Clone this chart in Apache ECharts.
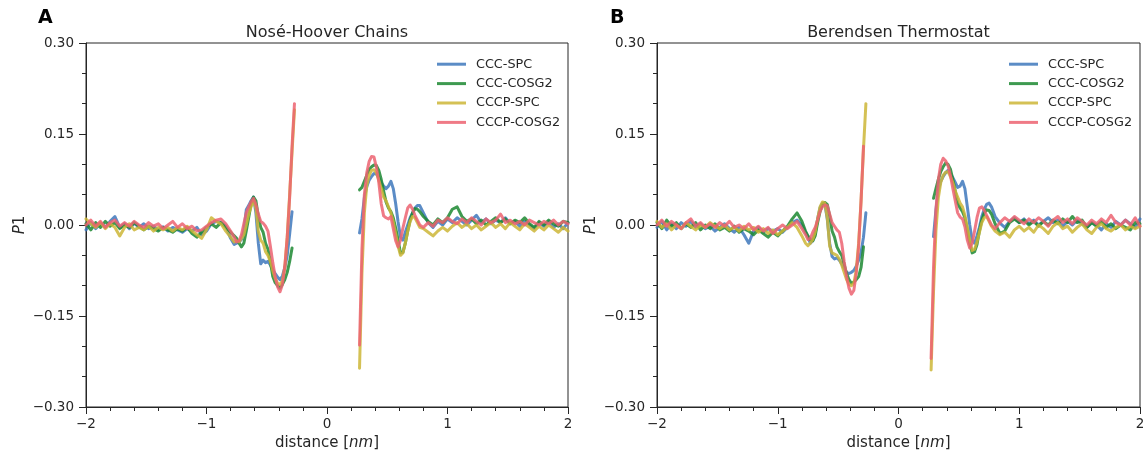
<!DOCTYPE html>
<html><head><meta charset="utf-8">
<script src="https://cdn.jsdelivr.net/npm/echarts@6/dist/echarts.min.js"></script>
<style>html,body{margin:0;padding:0;background:#fff}#c{width:1146px;height:452px}</style>
</head><body><div id="c"></div>
<script>
// ---- sample positions (nm) ----
const xNeg = [-2.00,-1.96,-1.92,-1.88,-1.84,-1.80,-1.76,-1.72,-1.68,-1.64,
  -1.60,-1.56,-1.52,-1.48,-1.44,-1.40,-1.36,-1.32,-1.28,-1.24,
  -1.20,-1.16,-1.12,-1.08,-1.04,-1.00,-0.96,-0.92,-0.88,-0.84,
  -0.80,
  -0.77,-0.75,-0.73,-0.71,-0.69,-0.67,-0.65,-0.63,-0.61,-0.59,
  -0.57,-0.55,-0.53,-0.51,-0.49,-0.47,-0.45,-0.43,-0.41,-0.39,
  -0.37,-0.35,-0.33,-0.31,-0.29,-0.27];
const xPos = [0.27,0.29,0.31,0.33,0.35,0.37,0.39,0.41,0.43,0.45,
  0.47,0.49,0.51,0.53,0.55,0.57,0.59,0.61,0.63,0.65,
  0.67,0.69,0.71,0.73,0.75,0.77,
  0.80,0.84,0.88,0.92,0.96,1.00,1.04,1.08,1.12,1.16,
  1.20,1.24,1.28,1.32,1.36,1.40,1.44,1.48,1.52,1.56,
  1.60,1.64,1.68,1.72,1.76,1.80,1.84,1.88,1.92,1.96,
  2.00];

// ---- Panel A: Nose-Hoover Chains ----
const nhCccSpcNeg = [-0.008,0.004,-0.006,0.002,-0.004,0.006,0.014,-0.004,0.002,-0.006,
  0.003,-0.004,0.002,-0.006,-0.002,-0.008,-0.003,-0.010,-0.004,-0.008,
  -0.012,-0.006,-0.010,-0.004,-0.016,-0.010,0.002,0.006,0.004,-0.002,
  -0.022,
  -0.032,-0.030,-0.028,-0.024,-0.010,0.025,0.032,0.040,0.046,0.020,
  -0.030,-0.064,-0.058,-0.062,-0.060,-0.066,-0.074,-0.080,-0.086,-0.090,
  -0.084,-0.070,-0.050,-0.015,0.022,null];
const nhCccSpcPos = [-0.013,0.010,0.045,0.063,0.074,0.080,0.085,0.084,0.078,0.070,
  0.064,0.060,0.064,0.072,0.060,0.035,0.005,-0.020,-0.025,-0.012,
  0.000,0.012,0.020,0.028,0.032,0.032,
  0.020,0.004,-0.004,0.006,0.000,0.010,0.004,0.012,0.006,0.000,
  0.008,0.016,0.004,0.010,0.002,0.008,0.004,0.012,0.002,0.006,
  -0.002,0.006,0.000,-0.006,0.004,-0.002,0.006,-0.004,0.002,-0.006,
  0.004];
const nhCccCosgNeg = [0.002,-0.008,0.004,-0.004,0.006,-0.002,0.004,-0.006,0.000,-0.004,
  0.004,-0.002,-0.008,-0.002,-0.006,-0.010,-0.004,-0.008,-0.012,-0.006,
  -0.010,-0.004,-0.014,-0.020,-0.012,-0.004,0.002,-0.004,0.004,-0.004,
  -0.012,
  -0.018,-0.022,-0.030,-0.036,-0.030,-0.010,0.012,0.035,0.046,0.040,
  0.014,-0.004,-0.012,-0.030,-0.040,-0.060,-0.085,-0.095,-0.100,-0.104,
  -0.098,-0.090,-0.078,-0.060,-0.038,null];
const nhCccCosgPos = [0.058,0.062,0.072,0.082,0.092,0.096,0.099,0.098,0.090,0.075,
  0.056,0.038,0.028,0.022,0.012,-0.005,-0.025,-0.046,-0.045,-0.030,
  -0.010,0.008,0.020,0.027,0.026,0.022,
  0.014,0.006,0.000,0.010,0.004,0.012,0.026,0.030,0.014,0.006,
  0.010,0.002,0.008,0.000,0.006,0.012,0.004,0.010,0.002,0.008,
  0.004,0.012,0.002,-0.004,0.006,0.000,0.008,0.002,-0.002,0.006,
  0.004];
const nhCccpSpcNeg = [0.010,0.002,-0.004,0.004,-0.006,0.002,-0.004,-0.018,-0.004,0.002,
  -0.008,-0.004,-0.008,-0.002,-0.010,-0.004,-0.008,-0.004,-0.010,-0.004,
  -0.008,-0.002,-0.010,-0.016,-0.022,-0.008,0.012,0.006,0.002,-0.010,
  -0.020,
  -0.028,-0.026,-0.028,-0.022,-0.016,0.000,0.018,0.030,0.040,0.028,
  -0.010,-0.025,-0.030,-0.044,-0.050,-0.060,-0.075,-0.088,-0.096,-0.098,
  -0.092,-0.070,-0.020,0.050,0.120,0.190];
const nhCccpSpcPos = [-0.236,-0.080,0.020,0.065,0.082,0.090,0.091,0.086,0.074,0.060,
  0.046,0.040,0.030,0.020,0.005,-0.015,-0.035,-0.050,-0.046,-0.030,
  -0.010,0.006,0.014,0.012,0.004,-0.004,
  -0.006,-0.012,-0.018,-0.010,-0.004,-0.010,-0.002,0.004,-0.004,0.002,
  -0.006,0.000,-0.008,-0.002,0.004,-0.004,0.002,-0.006,0.004,-0.002,
  -0.008,0.002,-0.004,-0.010,-0.002,-0.008,0.000,-0.006,-0.012,-0.004,
  -0.010];
const nhCccpCosgNeg = [0.000,0.008,-0.002,0.006,-0.004,0.004,0.008,-0.002,0.004,-0.002,
  0.006,0.000,-0.004,0.004,-0.002,0.002,-0.006,0.000,0.006,-0.004,
  0.002,-0.006,-0.002,-0.010,-0.008,-0.002,0.004,0.008,0.010,0.002,
  -0.010,
  -0.020,-0.028,-0.026,-0.016,0.002,0.020,0.030,0.038,0.044,0.034,
  0.018,0.006,0.003,-0.002,-0.010,-0.035,-0.062,-0.085,-0.102,-0.110,
  -0.098,-0.068,-0.020,0.045,0.130,0.200];
const nhCccpCosgPos = [-0.198,-0.040,0.050,0.086,0.105,0.113,0.112,0.095,0.070,0.035,
  0.015,0.012,0.010,0.014,-0.006,-0.026,-0.036,-0.025,-0.005,0.012,
  0.028,0.033,0.026,0.016,0.008,0.000,
  -0.004,0.004,-0.002,0.008,0.004,0.012,0.006,0.002,0.010,0.004,
  0.012,0.006,0.000,0.010,0.004,0.008,0.018,0.004,0.008,0.002,
  0.006,0.000,0.008,0.004,0.000,0.006,0.002,0.008,0.000,0.006,
  0.002];

// ---- Panel B: Berendsen Thermostat ----
const beCccSpcNeg = [-0.004,0.006,-0.008,0.002,-0.006,0.004,-0.002,0.006,-0.004,0.002,
  -0.006,-0.002,-0.010,-0.004,0.002,-0.006,-0.012,-0.004,-0.016,-0.030,
  -0.010,-0.004,-0.012,-0.006,-0.010,-0.006,-0.012,-0.004,0.004,0.008,
  0.000,
  -0.012,-0.020,-0.030,-0.026,-0.014,0.010,0.028,0.036,0.035,0.010,
  -0.030,-0.052,-0.056,-0.054,-0.058,-0.064,-0.072,-0.078,-0.080,-0.078,
  -0.075,-0.068,-0.058,-0.045,-0.020,0.020];
const beCccSpcPos = [null,-0.019,0.025,0.058,0.072,0.080,0.086,0.090,0.084,0.078,
  0.070,0.062,0.064,0.072,0.060,0.030,0.000,-0.025,-0.030,-0.018,
  -0.004,0.014,0.026,0.034,0.036,0.030,
  0.014,0.003,-0.004,0.006,0.012,0.004,0.010,0.002,0.008,0.000,
  0.006,0.012,0.004,0.008,-0.002,0.006,0.000,0.008,0.002,-0.004,
  0.004,0.000,-0.008,0.002,-0.004,0.006,0.000,0.008,0.002,-0.004,
  0.010];
const beCccCosgNeg = [0.004,-0.006,0.008,-0.002,0.004,-0.006,0.002,-0.004,0.004,-0.008,
  0.000,-0.006,0.002,-0.008,-0.004,-0.010,-0.002,-0.012,-0.006,-0.010,
  -0.016,-0.008,-0.014,-0.020,-0.012,-0.018,-0.010,-0.002,0.010,0.020,
  0.006,
  -0.010,-0.018,-0.024,-0.026,-0.018,0.004,0.022,0.034,0.037,0.034,
  0.015,-0.010,-0.020,-0.036,-0.044,-0.050,-0.065,-0.080,-0.090,-0.096,
  -0.094,-0.090,-0.085,-0.070,-0.036,null];
const beCccCosgPos = [null,0.044,0.060,0.075,0.088,0.096,0.102,0.100,0.092,0.075,
  0.056,0.036,0.028,0.022,0.012,-0.008,-0.030,-0.046,-0.044,-0.032,
  -0.010,0.008,0.020,0.025,0.024,0.018,
  0.002,-0.014,-0.010,0.004,0.010,0.004,0.008,0.000,0.006,-0.002,
  0.006,0.000,0.008,0.002,0.010,0.004,0.014,0.004,0.008,-0.004,
  0.004,-0.002,0.006,-0.004,0.002,-0.006,0.000,-0.004,-0.008,0.004,
  0.002];
const beCccpSpcNeg = [0.006,-0.004,0.002,-0.008,0.000,-0.006,0.004,-0.002,-0.008,0.000,
  -0.004,0.004,-0.002,-0.006,0.000,-0.008,-0.004,-0.010,-0.002,-0.008,
  -0.004,-0.012,-0.006,-0.014,-0.008,-0.016,-0.010,-0.004,0.004,-0.004,
  -0.018,
  -0.030,-0.034,-0.030,-0.024,-0.012,0.010,0.030,0.038,0.036,0.012,
  -0.035,-0.046,-0.048,-0.050,-0.056,-0.066,-0.078,-0.090,-0.098,-0.100,
  -0.096,-0.075,-0.030,0.040,0.125,0.200];
const beCccpSpcPos = [-0.239,-0.110,-0.010,0.045,0.070,0.082,0.087,0.088,0.080,0.070,
  0.056,0.046,0.036,0.030,0.016,-0.004,-0.025,-0.042,-0.040,-0.028,
  -0.012,0.004,0.012,0.014,0.006,-0.002,
  -0.010,-0.016,-0.012,-0.020,-0.008,-0.002,-0.010,-0.004,-0.012,0.000,
  -0.006,-0.014,-0.002,0.004,-0.006,-0.002,-0.012,-0.004,0.002,-0.008,
  -0.014,-0.004,0.002,-0.006,-0.010,-0.004,0.000,-0.008,-0.002,-0.006,
  -0.002];
const beCccpCosgNeg = [0.000,0.008,-0.002,0.006,0.000,-0.006,0.004,0.010,-0.002,0.004,
  -0.004,0.002,-0.004,0.004,-0.002,0.006,-0.004,0.000,-0.006,0.002,
  -0.008,-0.002,-0.010,-0.004,-0.014,-0.006,0.000,-0.006,0.000,0.006,
  -0.006,
  -0.016,-0.024,-0.022,-0.012,-0.004,0.008,0.022,0.030,0.033,0.032,
  0.018,0.004,-0.002,-0.008,-0.012,-0.030,-0.060,-0.085,-0.104,-0.114,
  -0.108,-0.080,-0.035,0.040,0.130,null];
const beCccpCosgPos = [-0.220,-0.070,0.025,0.075,0.100,0.110,0.106,0.098,0.082,0.060,
  0.040,0.020,0.013,0.010,-0.003,-0.025,-0.038,-0.030,-0.010,0.012,
  0.028,0.030,0.024,0.016,0.008,0.000,
  -0.006,0.004,0.012,0.006,0.014,0.008,0.002,0.010,0.004,0.012,
  0.006,-0.002,0.008,0.014,0.004,0.010,0.002,0.012,0.006,0.000,
  0.008,0.002,0.010,0.004,0.016,0.004,0.000,0.008,0.000,0.012,
  -0.002];

const seriesNames = ['CCC-SPC','CCC-COSG2','CCCP-SPC','CCCP-COSG2'];
const panelTitles = ['Nosé-Hoover Chains','Berendsen Thermostat'];
const panelLetters = ['A','B'];

// ---- styling ----
const FONT = 'DejaVu Sans';
const INK = '#262626';
const COLORS = ['rgba(62,120,188,0.85)','rgba(28,136,49,0.85)','rgba(204,182,55,0.85)','rgba(236,99,113,0.85)'];

const panels = [
  {neg:[nhCccSpcNeg,nhCccCosgNeg,nhCccpSpcNeg,nhCccpCosgNeg], pos:[nhCccSpcPos,nhCccCosgPos,nhCccpSpcPos,nhCccpCosgPos]},
  {neg:[beCccSpcNeg,beCccCosgNeg,beCccpSpcNeg,beCccpCosgNeg], pos:[beCccSpcPos,beCccCosgPos,beCccpSpcPos,beCccpCosgPos]}
];
const gridBoxes = [{left:86, top:43, width:482, height:364},{left:657, top:43, width:483, height:364}];

function pts(xs, ys){ const o=[]; xs.forEach((x,i)=>{ if(ys[i]!==null) o.push([x,ys[i]]); }); return o; }
const minus = s => String(s).replace('-', '\u2212');

const grid = gridBoxes.map(b => Object.assign({show:true, borderColor:INK, borderWidth:1, backgroundColor:'transparent', containLabel:false, outerBoundsMode:'none'}, b));
const xAxis = gridBoxes.map((b,i)=>({
  gridIndex:i, type:'value', min:-2, max:2, interval:1,
  axisLine:{show:true, onZero:false, lineStyle:{color:INK, width:1}},
  axisTick:{show:true, length:7, lineStyle:{color:INK, width:1}},
  minorTick:{show:true, splitNumber:5, length:4, lineStyle:{color:INK, width:1}},
  splitLine:{show:false}, minorSplitLine:{show:false},
  axisLabel:{color:INK, fontFamily:FONT, fontSize:13.5, margin:10, formatter:v=>minus(v)},
  name:'distance [{i|nm}]', nameLocation:'middle', nameGap:26,
  nameTextStyle:{color:INK, fontFamily:FONT, fontSize:15, rich:{i:{fontStyle:'italic', fontFamily:FONT, fontSize:15, color:INK}}}
}));
const yAxis = gridBoxes.map((b,i)=>({
  gridIndex:i, type:'value', min:-0.3, max:0.3, interval:0.15,
  axisLine:{show:true, onZero:false, lineStyle:{color:INK, width:1}},
  axisTick:{show:true, length:7, lineStyle:{color:INK, width:1}},
  minorTick:{show:true, splitNumber:3, length:4, lineStyle:{color:INK, width:1}},
  splitLine:{show:false}, minorSplitLine:{show:false},
  axisLabel:{color:INK, fontFamily:FONT, fontSize:13.5, margin:12, formatter:v=>minus(v.toFixed(2))},
  name:'{i|P}1', nameLocation:'middle', nameGap:58, nameRotate:90,
  nameTextStyle:{color:INK, fontFamily:FONT, fontSize:15, rich:{i:{fontStyle:'italic', fontFamily:FONT, fontSize:15, color:INK}}}
}));

const series = [];
panels.forEach((p,pi)=>{
  seriesNames.forEach((n,si)=>{
    [[xNeg,p.neg[si]],[xPos,p.pos[si]]].forEach(([xs,ys])=>{
      series.push({type:'line', name:n, xAxisIndex:pi, yAxisIndex:pi, data:pts(xs,ys),
        showSymbol:false, symbol:'none', color:COLORS[si], z:2+si,
        lineStyle:{color:COLORS[si], width:3, join:'round', cap:'round'}, emphasis:{disabled:true}, silent:true});
    });
  });
});

const legend = gridBoxes.map(b=>({
  data:seriesNames, orient:'vertical', left:b.left+b.width-136, top:52,
  icon:'rect', itemWidth:29, itemHeight:3, itemGap:5, selectedMode:false,
  textStyle:{color:INK, fontFamily:FONT, fontSize:12.8, lineHeight:14.4, padding:[0,0,0,5]}
}));

const graphic = [];
gridBoxes.forEach((b,i)=>{
  graphic.push({type:'text', x:b.left+b.width/2, y:33, style:{text:panelTitles[i], fill:INK, font:'16px "DejaVu Sans"', align:'center', verticalAlign:'middle'}});
  graphic.push({type:'text', x:i===0?38:610, y:18, style:{text:panelLetters[i], fill:'#000', font:'bold 19px "DejaVu Sans"', align:'left', verticalAlign:'middle'}});
});

const chart = echarts.init(document.getElementById('c'), null, {renderer:'canvas'});
chart.setOption({animation:false, backgroundColor:'#fff', grid, xAxis, yAxis, series, legend, graphic});
</script></body></html>
